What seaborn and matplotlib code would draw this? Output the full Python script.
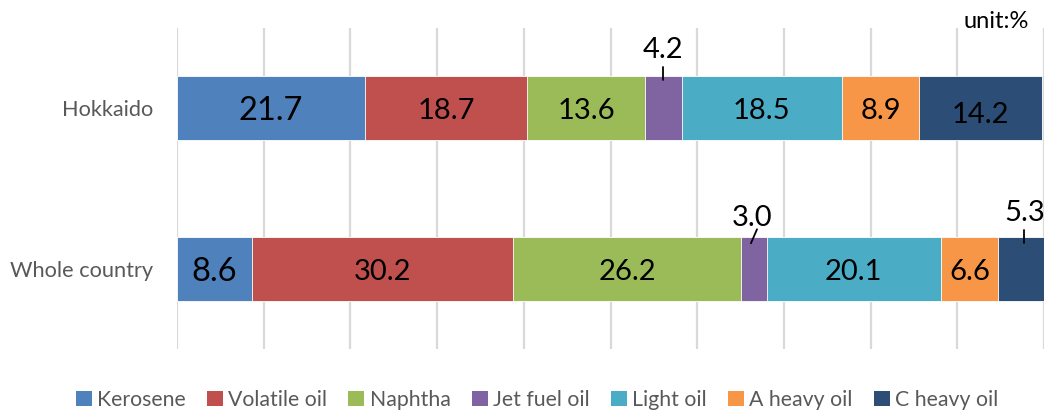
import numpy as np
import pandas as pd
import matplotlib
matplotlib.use("Agg")
import matplotlib.pyplot as plt
import seaborn as sns
from matplotlib.patches import Patch

# ── Data ────────────────────────────────────────────────────────────────
regions = ["Hokkaido", "Whole country"]
fuels = ["Kerosene", "Volatile oil", "Naphtha", "Jet fuel oil",
         "Light oil", "A heavy oil", "C heavy oil"]
hokkaido = [21.7, 18.7, 13.6, 4.2, 18.5, 8.9, 14.2]
whole_country = [8.6, 30.2, 26.2, 3.0, 20.1, 6.6, 5.3]

COLORS = ["#4F81BD", "#C0504D", "#9BBB59", "#8064A2",
          "#4BACC6", "#F79646", "#2C4D75"]

sns.set_theme(style="white")
plt.rcParams["font.family"] = ["Lato", "DejaVu Sans"]

df = pd.DataFrame([hokkaido, whole_country], index=regions, columns=fuels)
cum = df.cumsum(axis=1)

fig = plt.figure(figsize=(10.46, 4.13), dpi=100)
ax = fig.add_axes([177 / 1046, 1 - 349 / 413, 867 / 1046, 321 / 413])

# stacked bars: draw cumulative totals from last to first
for i in range(len(fuels) - 1, -1, -1):
    sns.barplot(x=cum.iloc[:, i].values, y=regions, orient="h",
                color=COLORS[i], width=0.4, saturation=1,
                edgecolor="white", linewidth=0.6, ax=ax, zorder=2)

ax.set_xlim(0, 100)
ax.set_ylim(1.5, -0.5)
ax.set_xticks(np.arange(0, 101, 10))
ax.set_xticklabels([])
ax.grid(axis="x", color="#D9D9D9", linewidth=1.6, zorder=0)
ax.set_axisbelow(True)
for s in ax.spines.values():
    s.set_visible(False)
ax.tick_params(axis="y", length=0, pad=17, labelsize=15.7, labelcolor="#595959")
ax.tick_params(axis="x", length=0)
ax.set_xlabel("")
ax.set_ylabel("")

# data labels
outside = {
    (0, 3): (0.0, -0.36, (0.0, -0.26), (0.0, -0.175)),
    (1, 3): (-0.2, -0.315, (0.4, -0.246), (-0.3, -0.159)),
    (1, 6): (0.45, -0.345, (0.35, -0.24), (0.35, -0.16)),
}
for r in range(len(regions)):
    for i in range(len(fuels)):
        v = df.iloc[r, i]
        xc = cum.iloc[r, i] - v / 2
        size = 23.5 if i == 0 else 21
        if (r, i) in outside:
            dx, dy, (lx0, ly0), (lx1, ly1) = outside[(r, i)]
            ax.text(xc + dx, r + dy, f"{v:.1f}", ha="center", va="center",
                    fontsize=size, color="black", zorder=4)
            ax.plot([xc + lx0, xc + lx1], [r + ly0, r + ly1], color="black",
                    linewidth=1.3, zorder=4)
        else:
            off = 0.045 if (r, i) == (0, 6) else 0.02
            ax.text(xc, r + off, f"{v:.1f}", ha="center", va="center",
                    fontsize=size, color="black", zorder=4)

fig.text(996 / 1046, 1 - 22 / 413, "unit:%", ha="center", va="center",
         fontsize=17, color="black")

handles = [Patch(facecolor=c, edgecolor="none") for c in COLORS]
fig.legend(handles, fuels, loc="center", bbox_to_anchor=(537 / 1046, 1 - 400 / 413),
           ncol=7, frameon=False, fontsize=15.3, labelcolor="#595959",
           handlelength=0.75, handleheight=0.75, handletextpad=0.25,
           columnspacing=1.0)

fig.savefig("out.png", dpi=100)
